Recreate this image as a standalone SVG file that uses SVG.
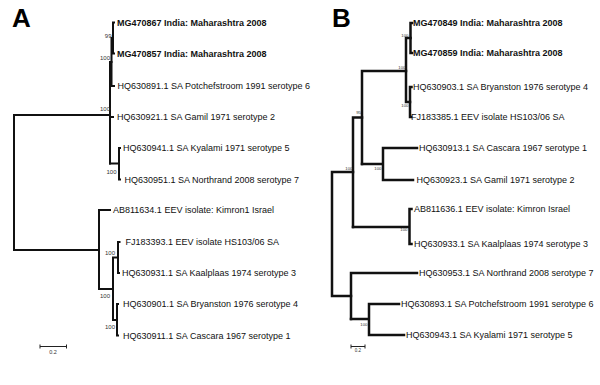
<svg xmlns="http://www.w3.org/2000/svg" width="600" height="385" viewBox="0 0 600 385">
<style>
.bg{fill:#fff}
.br{fill:none;stroke:#111;stroke-width:2;stroke-linecap:square}
.brB{fill:none;stroke:#111;stroke-width:2.5;stroke-linecap:square}
.sc{fill:none;stroke:#222;stroke-width:1}
.lb{font-family:"Liberation Sans",Arial,sans-serif;font-size:9px;fill:#111}
.bd{font-weight:bold}
.bs{font-family:"Liberation Sans",Arial,sans-serif;font-size:6px;fill:#333;text-anchor:end}
.bsB{font-family:"Liberation Sans",Arial,sans-serif;font-size:4.3px;fill:#333;text-anchor:end}
.pn{font-family:"Liberation Sans",Arial,sans-serif;font-size:26px;font-weight:bold;fill:#000}
.sl{font-family:"Liberation Sans",Arial,sans-serif;fill:#333;text-anchor:middle}
</style>
<rect class="bg" x="0" y="0" width="600" height="385"/>

<text class="pn" x="12" y="27">A</text>
<text class="pn" x="332" y="27">B</text>

<g id="connectors">
  <g id="treeA">
    <path class="br" d="M113,22.5 V53.5 M113,22.5 H114 M113,53.5 H114"/>
    <path class="br" d="M111.5,38 V86 M111.5,38 H113 M111.5,86 H114"/>
    <path class="br" d="M110,62 V163.5 M110,62 H111.5 M110,117 H113"/>
    <path class="br" d="M119,148 V179.5 M110,163.5 H119 M119,148 H120 M119,179.5 H120"/>
    <path class="br" d="M14,115 V250 M14,115 H110 M14,250 H99"/>
    <path class="br" d="M99,210 V289 M99,210 H110 M99,289 H113"/>
    <path class="br" d="M113,257.5 V320 M113,257.5 H118 M113,320 H117"/>
    <path class="br" d="M118,242 V273 M118,242 H119.5 M118,273 H119"/>
    <path class="br" d="M117,304 V335.5 M117,304 H118 M117,335.5 H118"/>
  </g>
  <g id="treeB">
    <path class="brB" d="M410.5,23 V53 M410.5,23 H412 M410.5,53 H412"/>
    <path class="brB" d="M410,87 V117 M410,87 H411.5 M410,117 H411"/>
    <path class="brB" d="M406,38 V102 M406,38 H410.5 M406,102 H410"/>
    <path class="brB" d="M362,71 V164 M362,71 H406"/>
    <path class="brB" d="M383,148 V180 M362,164 H383 M383,148 H417 M383,180 H413"/>
    <path class="brB" d="M353,117.5 V227 M353,117.5 H362"/>
    <path class="brB" d="M409.5,209 V244 M353,227 H409.5 M409.5,209 H411.5 M409.5,244 H411.5"/>
    <path class="brB" d="M332,172 V296 M332,172 H353 M332,296 H351"/>
    <path class="brB" d="M351,273 V319 M351,273 H417"/>
    <path class="brB" d="M369,304 V335 M351,319 H369 M369,304 H399 M369,335 H404"/>
  </g>
</g>

<g id="bootstrapA">
  <text class="bs" x="111.5" y="37.5">99</text>
  <text class="bs" x="110" y="59.5">100</text>
  <text class="bs" x="110" y="111">100</text>
  <text class="bs" x="116.5" y="173.5">100</text>
  <text class="bs" x="115" y="255">100</text>
  <text class="bs" x="110" y="298">100</text>
  <text class="bs" x="115" y="329">100</text>
</g>
<g id="bootstrapB">
  <text class="bsB" x="408.5" y="36.5">100</text>
  <text class="bsB" x="405.5" y="68.5">100</text>
  <text class="bsB" x="408.5" y="107">100</text>
  <text class="bsB" x="361" y="114">95</text>
  <text class="bsB" x="352.5" y="169.5">100</text>
  <text class="bsB" x="381.5" y="169.5">100</text>
  <text class="bsB" x="407.5" y="231">100</text>
  <text class="bsB" x="367.5" y="325.5">100</text>
</g>

<g id="leafA1"><text class="lb bd" x="117" y="25.5">MG470867 India: Maharashtra 2008</text></g>
<g id="leafA2"><text class="lb bd" x="117" y="56.5">MG470857 India: Maharashtra 2008</text></g>
<g id="leafA3"><text class="lb" x="117.5" y="89">HQ630891.1 SA Potchefstroom 1991 serotype 6</text></g>
<g id="leafA4"><text class="lb" x="117" y="120">HQ630921.1 SA Gamil 1971 serotype 2</text></g>
<g id="leafA5"><text class="lb" x="123" y="151">HQ630941.1 SA Kyalami 1971 serotype 5</text></g>
<g id="leafA6"><text class="lb" x="124.5" y="182.5">HQ630951.1 SA Northrand 2008 serotype 7</text></g>
<g id="leafA7"><text class="lb" x="113" y="213">AB811634.1 EEV isolate: Kimron1 Israel</text></g>
<g id="leafA8"><text class="lb" x="125.5" y="245">FJ183393.1 EEV isolate HS103/06 SA</text></g>
<g id="leafA9"><text class="lb" x="122" y="276">HQ630931.1 SA Kaalplaas 1974 serotype 3</text></g>
<g id="leafA10"><text class="lb" x="123" y="307">HQ630901.1 SA Bryanston 1976 serotype 4</text></g>
<g id="leafA11"><text class="lb" x="123" y="338.5">HQ630911.1 SA Cascara 1967 serotype 1</text></g>

<g id="leafB1"><text class="lb bd" x="413" y="26">MG470849 India: Maharashtra 2008</text></g>
<g id="leafB2"><text class="lb bd" x="413" y="56">MG470859 India: Maharashtra 2008</text></g>
<g id="leafB3"><text class="lb" x="413" y="90">HQ630903.1 SA Bryanston 1976 serotype 4</text></g>
<g id="leafB4"><text class="lb" x="411" y="120">FJ183385.1 EEV isolate HS103/06 SA</text></g>
<g id="leafB5"><text class="lb" x="419" y="151">HQ630913.1 SA Cascara 1967 serotype 1</text></g>
<g id="leafB6"><text class="lb" x="416.5" y="183">HQ630923.1 SA Gamil 1971 serotype 2</text></g>
<g id="leafB7"><text class="lb" x="414" y="212">AB811636.1 EEV isolate: Kimron Israel</text></g>
<g id="leafB8"><text class="lb" x="414" y="247">HQ630933.1 SA Kaalplaas 1974 serotype 3</text></g>
<g id="leafB9"><text class="lb" x="419" y="276">HQ630953.1 SA Northrand 2008 serotype 7</text></g>
<g id="leafB10"><text class="lb" x="401" y="307">HQ630893.1 SA Potchefstroom 1991 serotype 6</text></g>
<g id="leafB11"><text class="lb" x="406" y="338">HQ630943.1 SA Kyalami 1971 serotype 5</text></g>

<g id="scaleA">
  <path class="sc" d="M40,346.5 H66.5 M40,344.5 V348.5 M66.5,344.5 V348.5"/>
  <text class="sl" x="53" y="354" font-size="5.5">0.2</text>
</g>
<g id="scaleB">
  <path class="sc" d="M351,346.5 H365 M351,344.5 V348.5 M365,344.5 V348.5"/>
  <text class="sl" x="358" y="352" font-size="4.5">0.2</text>
</g>
</svg>
